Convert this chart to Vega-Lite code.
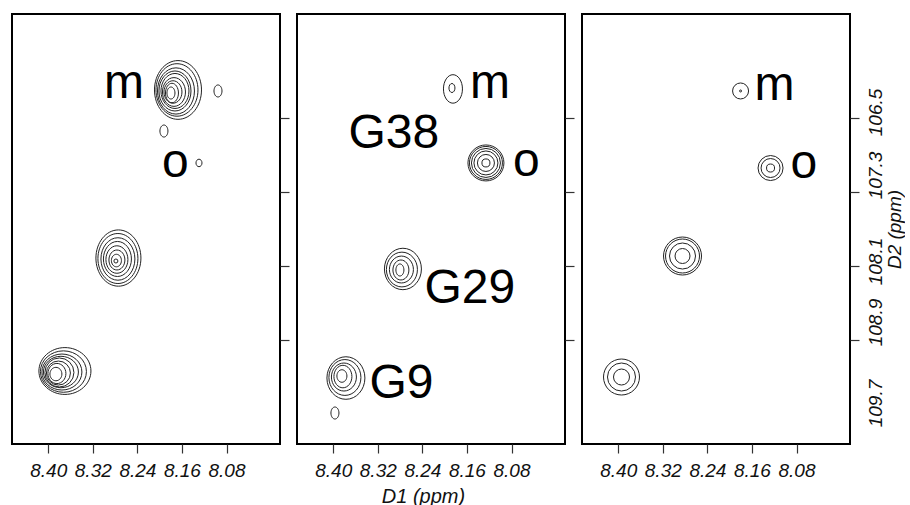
{
  "$schema": "https://vega.github.io/schema/vega-lite/v6.json",
  "padding": {"left": 11, "top": 13, "right": 0, "bottom": 0},
  "background": "white",
  "bounds": "flush",
  "spacing": 17,
  "config": {
    "view": {"stroke": "#000", "strokeWidth": 2},
    "font": "Liberation Sans",
    "axis": {
      "grid": false, "domain": false, "tickColor": "#333", "tickWidth": 1.2, "tickSize": 9,
      "labelFont": "Liberation Sans", "labelFontSize": 19, "labelFontStyle": "italic", "labelColor": "#111",
      "titleFont": "Liberation Sans", "titleFontSize": 20, "titleFontStyle": "italic", "titleFontWeight": "normal", "titleColor": "#111"
    }
  },
  "datasets": {
    "rings": [
      {"p": 1, "peak": "m", "d1": 8.1797, "d2": 106.230, "w": 0.0144, "form": "taller"},
      {"p": 1, "peak": "m", "d1": 8.1779, "d2": 106.230, "w": 0.0233, "form": "taller"},
      {"p": 1, "peak": "m", "d1": 8.1761, "d2": 106.219, "w": 0.0323, "form": "tall"},
      {"p": 1, "peak": "m", "d1": 8.1743, "d2": 106.219, "w": 0.0413, "form": "tall"},
      {"p": 1, "peak": "m", "d1": 8.1725, "d2": 106.208, "w": 0.0503, "form": "tall"},
      {"p": 1, "peak": "m", "d1": 8.1725, "d2": 106.208, "w": 0.0575, "form": "tall"},
      {"p": 1, "peak": "m", "d1": 8.1707, "d2": 106.208, "w": 0.0664, "form": "tall"},
      {"p": 1, "peak": "m", "d1": 8.1689, "d2": 106.197, "w": 0.0754, "form": "tall"},
      {"p": 1, "peak": "m", "d1": 8.1671, "d2": 106.197, "w": 0.0844, "form": "tall"},
      {"p": 1, "peak": "m tail", "d1": 8.1923, "d2": 106.641, "w": 0.0144, "form": "taller"},
      {"p": 1, "peak": "side", "d1": 8.0953, "d2": 106.208, "w": 0.0144, "form": "taller"},
      {"p": 1, "peak": "o", "d1": 8.1294, "d2": 106.986, "w": 0.0108, "form": "tall"},
      {"p": 1, "peak": "G29", "d1": 8.2785, "d2": 108.046, "w": 0.0072, "form": "round"},
      {"p": 1, "peak": "G29", "d1": 8.2776, "d2": 108.041, "w": 0.0180, "form": "tall"},
      {"p": 1, "peak": "G29", "d1": 8.2767, "d2": 108.035, "w": 0.0287, "form": "tall"},
      {"p": 1, "peak": "G29", "d1": 8.2767, "d2": 108.030, "w": 0.0395, "form": "tall"},
      {"p": 1, "peak": "G29", "d1": 8.2758, "d2": 108.024, "w": 0.0503, "form": "tall"},
      {"p": 1, "peak": "G29", "d1": 8.2749, "d2": 108.024, "w": 0.0610, "form": "tall"},
      {"p": 1, "peak": "G29", "d1": 8.2749, "d2": 108.019, "w": 0.0718, "form": "tall"},
      {"p": 1, "peak": "G29", "d1": 8.2740, "d2": 108.014, "w": 0.0808, "form": "tall"},
      {"p": 1, "peak": "G9", "d1": 8.3862, "d2": 109.268, "w": 0.0215, "form": "oval"},
      {"p": 1, "peak": "G9", "d1": 8.3844, "d2": 109.262, "w": 0.0323, "form": "oval"},
      {"p": 1, "peak": "G9", "d1": 8.3817, "d2": 109.257, "w": 0.0431, "form": "round"},
      {"p": 1, "peak": "G9", "d1": 8.3799, "d2": 109.251, "w": 0.0521, "form": "round"},
      {"p": 1, "peak": "G9", "d1": 8.3772, "d2": 109.246, "w": 0.0628, "form": "wide"},
      {"p": 1, "peak": "G9", "d1": 8.3754, "d2": 109.246, "w": 0.0718, "form": "wide"},
      {"p": 1, "peak": "G9", "d1": 8.3727, "d2": 109.241, "w": 0.0826, "form": "wide"},
      {"p": 1, "peak": "G9", "d1": 8.3700, "d2": 109.235, "w": 0.0934, "form": "wide"},
      {"p": 2, "peak": "m", "d1": 8.1869, "d2": 106.176, "w": 0.0108, "form": "taller"},
      {"p": 2, "peak": "m", "d1": 8.1851, "d2": 106.186, "w": 0.0341, "form": "taller"},
      {"p": 2, "peak": "o", "d1": 8.1259, "d2": 106.986, "w": 0.0144, "form": "round"},
      {"p": 2, "peak": "o", "d1": 8.1259, "d2": 106.986, "w": 0.0305, "form": "round"},
      {"p": 2, "peak": "o", "d1": 8.1259, "d2": 106.986, "w": 0.0431, "form": "round"},
      {"p": 2, "peak": "o", "d1": 8.1259, "d2": 106.986, "w": 0.0521, "form": "round"},
      {"p": 2, "peak": "o", "d1": 8.1259, "d2": 106.986, "w": 0.0592, "form": "round"},
      {"p": 2, "peak": "o", "d1": 8.1259, "d2": 106.986, "w": 0.0646, "form": "round"},
      {"p": 2, "peak": "G29", "d1": 8.2803, "d2": 108.143, "w": 0.0144, "form": "taller"},
      {"p": 2, "peak": "G29", "d1": 8.2785, "d2": 108.143, "w": 0.0287, "form": "tall"},
      {"p": 2, "peak": "G29", "d1": 8.2776, "d2": 108.138, "w": 0.0431, "form": "oval"},
      {"p": 2, "peak": "G29", "d1": 8.2767, "d2": 108.138, "w": 0.0557, "form": "oval"},
      {"p": 2, "peak": "G29", "d1": 8.2749, "d2": 108.132, "w": 0.0664, "form": "oval"},
      {"p": 2, "peak": "G9", "d1": 8.3844, "d2": 109.289, "w": 0.0180, "form": "tall"},
      {"p": 2, "peak": "G9", "d1": 8.3826, "d2": 109.295, "w": 0.0323, "form": "tall"},
      {"p": 2, "peak": "G9", "d1": 8.3808, "d2": 109.300, "w": 0.0449, "form": "oval"},
      {"p": 2, "peak": "G9", "d1": 8.3790, "d2": 109.305, "w": 0.0575, "form": "oval"},
      {"p": 2, "peak": "G9", "d1": 8.3772, "d2": 109.311, "w": 0.0682, "form": "oval"},
      {"p": 2, "peak": "G9 tail", "d1": 8.3969, "d2": 109.689, "w": 0.0144, "form": "taller"},
      {"p": 3, "peak": "m", "d1": 8.1804, "d2": 106.208, "w": 0.0036, "form": "round"},
      {"p": 3, "peak": "m", "d1": 8.1804, "d2": 106.208, "w": 0.0287, "form": "round"},
      {"p": 3, "peak": "o", "d1": 8.1266, "d2": 107.041, "w": 0.0144, "form": "round"},
      {"p": 3, "peak": "o", "d1": 8.1266, "d2": 107.041, "w": 0.0341, "form": "round"},
      {"p": 3, "peak": "o", "d1": 8.1266, "d2": 107.041, "w": 0.0449, "form": "round"},
      {"p": 3, "peak": "G29", "d1": 8.2846, "d2": 107.992, "w": 0.0269, "form": "round"},
      {"p": 3, "peak": "G29", "d1": 8.2846, "d2": 107.992, "w": 0.0467, "form": "round"},
      {"p": 3, "peak": "G29", "d1": 8.2846, "d2": 107.992, "w": 0.0610, "form": "round"},
      {"p": 3, "peak": "G29", "d1": 8.2846, "d2": 107.992, "w": 0.0682, "form": "round"},
      {"p": 3, "peak": "G9", "d1": 8.3941, "d2": 109.300, "w": 0.0287, "form": "round"},
      {"p": 3, "peak": "G9", "d1": 8.3941, "d2": 109.300, "w": 0.0503, "form": "round"},
      {"p": 3, "peak": "G9", "d1": 8.3941, "d2": 109.300, "w": 0.0646, "form": "round"}
    ],
    "labels": [
      {"p": 1, "label": "m", "d1": 8.3000, "d2": 106.284},
      {"p": 1, "label": "o", "d1": 8.1959, "d2": 107.138},
      {"p": 2, "label": "G38", "d1": 8.3727, "d2": 106.824},
      {"p": 2, "label": "m", "d1": 8.1546, "d2": 106.284},
      {"p": 2, "label": "o", "d1": 8.0774, "d2": 107.127},
      {"p": 2, "label": "G29", "d1": 8.2363, "d2": 108.500},
      {"p": 2, "label": "G9", "d1": 8.3350, "d2": 109.527},
      {"p": 3, "label": "m", "d1": 8.1553, "d2": 106.305},
      {"p": 3, "label": "o", "d1": 8.0907, "d2": 107.149}
    ]
  },
  "hconcat": [
    {
      "width": 268, "height": 430,
      "encoding": {
        "x": {"field": "d1", "type": "quantitative",
          "scale": {"domain": [7.984, 8.465], "reverse": true, "nice": false, "zero": false},
          "axis": {"values": [8.40, 8.32, 8.24, 8.16, 8.08], "format": ".2f", "title": null, "labelPadding": 8}},
        "y": {"field": "d2", "type": "quantitative",
          "scale": {"domain": [105.376, 110.024], "reverse": true, "nice": false, "zero": false},
          "axis": {"orient": "right", "values": [106.5, 107.3, 108.1, 108.9], "labels": false, "title": null}}
      },
      "layer": [
        {
          "data": {"name": "rings"},
          "transform": [{"filter": "datum.p == 1"}],
          "mark": {"type": "point", "filled": false, "color": "#222", "strokeWidth": 1, "opacity": 1},
          "encoding": {
            "size": {"field": "w", "type": "quantitative", "scale": {"type": "pow", "exponent": 2, "domain": [0, 0.1], "range": [0, 3102.5]}, "legend": null},
            "shape": {"field": "form", "type": "nominal", "legend": null, "scale": {"domain": ["round", "wide", "oval", "tall", "taller"], "range": ["circle", "M0,-0.9C0.552,-0.9,1,-0.497,1,0C1,0.497,0.552,0.9,0,0.9C-0.552,0.9,-1,0.497,-1,0C-1,-0.497,-0.552,-0.9,0,-0.9Z", "M0,-1.12C0.552,-1.12,1,-0.618,1,0C1,0.618,0.552,1.12,0,1.12C-0.552,1.12,-1,0.618,-1,0C-1,-0.618,-0.552,-1.12,0,-1.12Z", "M0,-1.25C0.552,-1.25,1,-0.69,1,0C1,0.69,0.552,1.25,0,1.25C-0.552,1.25,-1,0.69,-1,0C-1,-0.69,-0.552,-1.25,0,-1.25Z", "M0,-1.5C0.552,-1.5,1,-0.828,1,0C1,0.828,0.552,1.5,0,1.5C-0.552,1.5,-1,0.828,-1,0C-1,-0.828,-0.552,-1.5,0,-1.5Z"]}}
          }
        },
        {
          "data": {"name": "labels"},
          "transform": [{"filter": "datum.p == 1"}],
          "mark": {"type": "text", "align": "left", "baseline": "alphabetic", "fontSize": 48, "font": "Liberation Sans", "color": "#000"},
          "encoding": {"text": {"field": "label", "type": "nominal"}}
        }
      ]
    },
    {
      "width": 268, "height": 430,
      "encoding": {
        "x": {"field": "d1", "type": "quantitative",
          "scale": {"domain": [7.984, 8.465], "reverse": true, "nice": false, "zero": false},
          "axis": {"values": [8.40, 8.32, 8.24, 8.16, 8.08], "format": ".2f", "title": "D1 (ppm)", "labelPadding": 8, "titlePadding": 6, "titleX": 126}},
        "y": {"field": "d2", "type": "quantitative",
          "scale": {"domain": [105.376, 110.024], "reverse": true, "nice": false, "zero": false},
          "axis": {"orient": "right", "values": [106.5, 107.3, 108.1, 108.9], "labels": false, "title": null}}
      },
      "layer": [
        {
          "data": {"name": "rings"},
          "transform": [{"filter": "datum.p == 2"}],
          "mark": {"type": "point", "filled": false, "color": "#222", "strokeWidth": 1, "opacity": 1},
          "encoding": {
            "size": {"field": "w", "type": "quantitative", "scale": {"type": "pow", "exponent": 2, "domain": [0, 0.1], "range": [0, 3102.5]}, "legend": null},
            "shape": {"field": "form", "type": "nominal", "legend": null, "scale": {"domain": ["round", "wide", "oval", "tall", "taller"], "range": ["circle", "M0,-0.9C0.552,-0.9,1,-0.497,1,0C1,0.497,0.552,0.9,0,0.9C-0.552,0.9,-1,0.497,-1,0C-1,-0.497,-0.552,-0.9,0,-0.9Z", "M0,-1.12C0.552,-1.12,1,-0.618,1,0C1,0.618,0.552,1.12,0,1.12C-0.552,1.12,-1,0.618,-1,0C-1,-0.618,-0.552,-1.12,0,-1.12Z", "M0,-1.25C0.552,-1.25,1,-0.69,1,0C1,0.69,0.552,1.25,0,1.25C-0.552,1.25,-1,0.69,-1,0C-1,-0.69,-0.552,-1.25,0,-1.25Z", "M0,-1.5C0.552,-1.5,1,-0.828,1,0C1,0.828,0.552,1.5,0,1.5C-0.552,1.5,-1,0.828,-1,0C-1,-0.828,-0.552,-1.5,0,-1.5Z"]}}
          }
        },
        {
          "data": {"name": "labels"},
          "transform": [{"filter": "datum.p == 2"}],
          "mark": {"type": "text", "align": "left", "baseline": "alphabetic", "fontSize": 48, "font": "Liberation Sans", "color": "#000"},
          "encoding": {"text": {"field": "label", "type": "nominal"}}
        }
      ]
    },
    {
      "width": 268, "height": 430,
      "encoding": {
        "x": {"field": "d1", "type": "quantitative",
          "scale": {"domain": [7.984, 8.465], "reverse": true, "nice": false, "zero": false},
          "axis": {"values": [8.40, 8.32, 8.24, 8.16, 8.08], "format": ".2f", "title": null, "labelPadding": 8}},
        "y": {"field": "d2", "type": "quantitative",
          "scale": {"domain": [105.376, 110.024], "reverse": true, "nice": false, "zero": false},
          "axis": {"orient": "right", "values": [106.5, 107.3, 108.1, 108.9, 109.7], "format": ".1f",
            "labelAngle": 270, "labelAlign": "center", "labelBaseline": "top", "labelPadding": 7,
            "labelOffset": {"condition": [{"test": "datum.value < 107", "value": -6}, {"test": "datum.value < 108", "value": -17}, {"test": "datum.value < 108.5", "value": -5}, {"test": "datum.value < 109.3", "value": -18}], "value": -11},
            "tickOpacity": {"condition": {"test": "datum.value > 109.5", "value": 0}, "value": 1},
            "title": "D2 (ppm)", "titleFontSize": 19, "titleAngle": 270, "titleAlign": "center", "titleBaseline": "top", "titlePadding": 0}}
      },
      "layer": [
        {
          "data": {"name": "rings"},
          "transform": [{"filter": "datum.p == 3"}],
          "mark": {"type": "point", "filled": false, "color": "#222", "strokeWidth": 1, "opacity": 1},
          "encoding": {
            "size": {"field": "w", "type": "quantitative", "scale": {"type": "pow", "exponent": 2, "domain": [0, 0.1], "range": [0, 3102.5]}, "legend": null},
            "shape": {"field": "form", "type": "nominal", "legend": null, "scale": {"domain": ["round", "wide", "oval", "tall", "taller"], "range": ["circle", "M0,-0.9C0.552,-0.9,1,-0.497,1,0C1,0.497,0.552,0.9,0,0.9C-0.552,0.9,-1,0.497,-1,0C-1,-0.497,-0.552,-0.9,0,-0.9Z", "M0,-1.12C0.552,-1.12,1,-0.618,1,0C1,0.618,0.552,1.12,0,1.12C-0.552,1.12,-1,0.618,-1,0C-1,-0.618,-0.552,-1.12,0,-1.12Z", "M0,-1.25C0.552,-1.25,1,-0.69,1,0C1,0.69,0.552,1.25,0,1.25C-0.552,1.25,-1,0.69,-1,0C-1,-0.69,-0.552,-1.25,0,-1.25Z", "M0,-1.5C0.552,-1.5,1,-0.828,1,0C1,0.828,0.552,1.5,0,1.5C-0.552,1.5,-1,0.828,-1,0C-1,-0.828,-0.552,-1.5,0,-1.5Z"]}}
          }
        },
        {
          "data": {"name": "labels"},
          "transform": [{"filter": "datum.p == 3"}],
          "mark": {"type": "text", "align": "left", "baseline": "alphabetic", "fontSize": 48, "font": "Liberation Sans", "color": "#000"},
          "encoding": {"text": {"field": "label", "type": "nominal"}}
        }
      ]
    }
  ]
}
